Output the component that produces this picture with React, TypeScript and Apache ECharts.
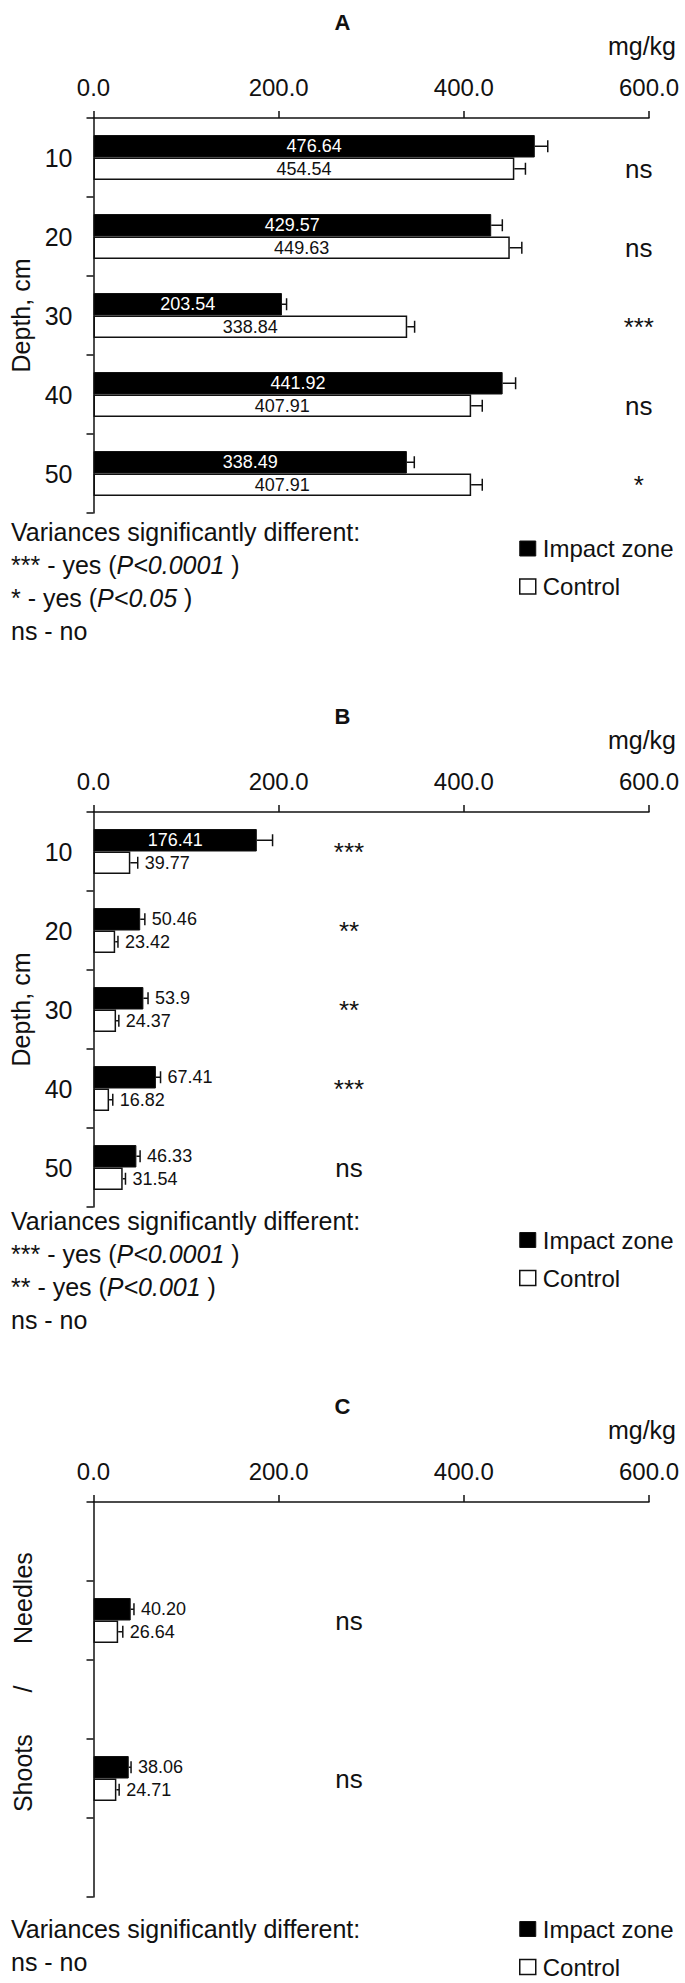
import React, { useEffect, useRef } from 'react';
import * as echarts from 'echarts';

// ---------- data ----------
const depthCategories = ['10', '20', '30', '40', '50'];
const tissueCategories = ['', 'Needles', '', 'Shoots', ''];
const xTickMax = 600;
const xTickStep = 200;

const aImpact = [476.64, 429.57, 203.54, 441.92, 338.49];
const aControl = [454.54, 449.63, 338.84, 407.91, 407.91];
const aImpactErr = [14, 12, 5, 14, 8];
const aControlErr = [12, 13, 8, 12, 12];
const aSig = ['ns', 'ns', '***', 'ns', '*'];

const bImpact = [176.41, 50.46, 53.9, 67.41, 46.33];
const bControl = [39.77, 23.42, 24.37, 16.82, 31.54];
const bImpactErr = [17, 5, 5, 5, 4];
const bControlErr = [8, 3, 3, 4, 3];
const bSig = ['***', '**', '**', '***', 'ns'];

const cImpact = [null, 40.2, null, 38.06, null];
const cControl = [null, 26.64, null, 24.71, null];
const cImpactErr = [null, 3.5, null, 2.5, null];
const cControlErr = [null, 5, null, 3, null];
const cSig = ['', 'ns', '', 'ns', ''];

const seriesNames = ['Impact zone', 'Control'];
const notesHeader = 'Variances significantly different:';
const aNotes = [['*** - yes (', 'P<0.0001', ' )'], ['* - yes (', 'P<0.05', ' )'], ['ns - no']];
const bNotes = [['*** - yes (', 'P<0.0001', ' )'], ['** - yes (', 'P<0.001', ' )'], ['ns - no']];
const cNotes = [['ns - no']];

// ---------- style / layout ----------
const FONT = '"Liberation Sans", Arial, Helvetica, sans-serif';
const INK = '#111';
const BAR_W = 22.5;
const CAP = 6;
const INSIDE_MIN = 100;
const NB = '\u00A0';

type Panel = {
  title: string;
  top: number;
  categories: string[];
  showCatLabels: boolean;
  impact: (number | null)[];
  control: (number | null)[];
  impactErr: (number | null)[];
  controlErr: (number | null)[];
  sig: string[];
  sigX: number;
  sigDy: number;
  yName: string;
  digits?: number;
  notes: string[][];
  notesTop: number;
  legendTop: number;
};

const panels: Panel[] = [
  {
    title: 'A', top: 118, categories: depthCategories, showCatLabels: true,
    impact: aImpact, control: aControl, impactErr: aImpactErr, controlErr: aControlErr,
    sig: aSig, sigX: 589, sigDy: BAR_W / 2, yName: 'Depth, cm',
    notes: aNotes, notesTop: 532, legendTop: 536.5,
  },
  {
    title: 'B', top: 812, categories: depthCategories, showCatLabels: true,
    impact: bImpact, control: bControl, impactErr: bImpactErr, controlErr: bControlErr,
    sig: bSig, sigX: 276, sigDy: 0, yName: 'Depth, cm',
    notes: bNotes, notesTop: 1221, legendTop: 1228,
  },
  {
    title: 'C', top: 1502, categories: tissueCategories, showCatLabels: false,
    impact: cImpact, control: cControl, impactErr: cImpactErr, controlErr: cControlErr,
    sig: cSig, sigX: 276, sigDy: 0,
    yName: NB.repeat(5) + 'Shoots' + NB.repeat(6) + '/' + NB.repeat(6) + 'Needles',
    digits: 2,
    notes: cNotes, notesTop: 1929, legendTop: 1917,
  },
];

const GRID_H = 395;
const GRID_LEFT = 93.5;
const GRID_RIGHT = 36;

function fmt(v: number, digits?: number) {
  return digits != null ? v.toFixed(digits) : String(v);
}

function errSeries(p: Panel, idx: number, which: number) {
  const values = which === 0 ? p.impact : p.control;
  const errs = which === 0 ? p.impactErr : p.controlErr;
  const sign = which === 0 ? -1 : 1;
  const insideColor = which === 0 ? '#fff' : INK;
  const data: number[][] = [];
  values.forEach((v, i) => {
    if (v != null) data.push([v, i, errs[i] as number]);
  });
  return {
    type: 'custom',
    name: seriesNames[which] + ' err',
    xAxisIndex: idx,
    yAxisIndex: idx,
    z: 5,
    silent: true,
    clip: false,
    data,
    renderItem: (params: any, api: any) => {
      const v = api.value(0);
      const c = api.value(1);
      const e = api.value(2);
      const p0 = api.coord([v, c]);
      const p1 = api.coord([v + e, c]);
      const pm = api.coord([v / 2, c]);
      const y = p0[1] + (sign * BAR_W) / 2;
      const inside = v > INSIDE_MIN;
      return {
        type: 'group',
        children: [
          { type: 'line', shape: { x1: p0[0], y1: y, x2: p1[0], y2: y }, style: { stroke: INK, lineWidth: 1.5 } },
          { type: 'line', shape: { x1: p1[0], y1: y - CAP, x2: p1[0], y2: y + CAP }, style: { stroke: INK, lineWidth: 1.5 } },
          {
            type: 'text',
            style: {
              text: fmt(v, p.digits),
              x: inside ? pm[0] : p1[0] + 7,
              y: y,
              align: inside ? 'center' : 'left',
              verticalAlign: 'middle',
              fill: inside ? insideColor : INK,
              fontSize: 18,
              fontFamily: FONT,
            },
          },
        ],
      };
    },
  };
}

function sigSeries(p: Panel, idx: number) {
  const data: number[][] = [];
  p.sig.forEach((s, i) => {
    if (s) data.push([p.sigX, i]);
  });
  return {
    type: 'custom',
    name: 'significance',
    xAxisIndex: idx,
    yAxisIndex: idx,
    z: 5,
    silent: true,
    clip: false,
    data,
    renderItem: (params: any, api: any) => {
      const c = api.value(1);
      const pt = api.coord([api.value(0), c]);
      return {
        type: 'text',
        style: {
          text: p.sig[c],
          x: pt[0],
          y: pt[1] + p.sigDy,
          align: 'center',
          verticalAlign: 'middle',
          fill: INK,
          fontSize: 26,
          fontFamily: FONT,
        },
      };
    },
  };
}

function buildOption() {
  const grid: any[] = [];
  const xAxis: any[] = [];
  const yAxis: any[] = [];
  const series: any[] = [];
  const title: any[] = [];
  const legend: any[] = [];
  const graphic: any[] = [];

  panels.forEach((p, idx) => {
    grid.push({ left: GRID_LEFT, right: GRID_RIGHT, top: p.top, height: GRID_H, containLabel: false });
    xAxis.push({
      type: 'value',
      gridIndex: idx,
      position: 'top',
      min: 0,
      max: xTickMax,
      interval: xTickStep,
      axisLine: { show: true, lineStyle: { color: INK, width: 1.5 } },
      axisTick: { show: true, length: 7, lineStyle: { color: INK, width: 1.5 } },
      axisLabel: {
        margin: 19,
        fontSize: 24,
        color: INK,
        fontFamily: FONT,
        formatter: (v: number) => v.toFixed(1),
      },
      splitLine: { show: false },
    });
    yAxis.push({
      type: 'category',
      gridIndex: idx,
      inverse: true,
      data: p.categories,
      axisLine: { show: true, onZero: false, lineStyle: { color: INK, width: 1.5 } },
      axisTick: { show: true, length: 7, lineStyle: { color: INK, width: 1.5 } },
      axisLabel: { show: p.showCatLabels, margin: 21, fontSize: 25, color: INK, fontFamily: FONT },
      name: p.yName,
      nameLocation: 'middle',
      nameGap: 58,
      nameTextStyle: { fontSize: 25, color: INK, fontFamily: FONT },
    });
    series.push({
      type: 'bar',
      name: seriesNames[0],
      xAxisIndex: idx,
      yAxisIndex: idx,
      data: p.impact,
      barWidth: BAR_W,
      barGap: '0%',
      itemStyle: { color: '#000', borderColor: INK, borderWidth: 1 },
    });
    series.push({
      type: 'bar',
      name: seriesNames[1],
      xAxisIndex: idx,
      yAxisIndex: idx,
      data: p.control,
      barWidth: BAR_W,
      barGap: '0%',
      itemStyle: { color: '#fff', borderColor: INK, borderWidth: 1.5 },
    });
    series.push(errSeries(p, idx, 0));
    series.push(errSeries(p, idx, 1));
    series.push(sigSeries(p, idx));

    title.push({
      text: p.title,
      left: 'center',
      top: p.top - 112,
      textStyle: { fontSize: 22, fontWeight: 'bold', color: INK, fontFamily: FONT },
    });
    legend.push({
      data: [
        { name: seriesNames[0], itemStyle: { color: '#000', borderColor: INK, borderWidth: 1 } },
        { name: seriesNames[1], itemStyle: { color: '#fff', borderColor: INK, borderWidth: 1.5 } },
      ],
      orient: 'vertical',
      left: 519,
      top: p.legendTop,
      height: 120,
      padding: 0,
      icon: 'rect',
      itemWidth: 16,
      itemHeight: 15,
      itemGap: 14,
      selectedMode: false,
      textStyle: { fontSize: 24, color: INK, fontFamily: FONT, padding: [0, 0, 0, 2] },
    });
    graphic.push({
      type: 'text',
      right: 685 - 676,
      top: p.top - 85,
      style: { text: 'mg/kg', fontSize: 25, fill: INK, fontFamily: FONT },
    });
    const lines = [[notesHeader], ...p.notes];
    lines.forEach((ln, li) => {
      const rich = {
        n: { fontSize: 25, fontFamily: FONT, fill: INK },
        i: { fontSize: 25, fontFamily: FONT, fill: INK, fontStyle: 'italic' },
      };
      const text = ln.map((part, pi) => `{${pi === 1 ? 'i' : 'n'}|${part}}`).join('');
      graphic.push({
        type: 'text',
        x: 11,
        y: p.notesTop + li * 33,
        style: { text, rich, verticalAlign: 'middle', fill: INK, fontSize: 25, fontFamily: FONT },
      });
    });
  });

  return { animation: false, backgroundColor: '#fff', grid, xAxis, yAxis, series, title, legend, graphic };
}

export default function App() {
  const ref = useRef<HTMLDivElement>(null);
  useEffect(() => {
    document.body.style.margin = '0';
    if (!ref.current) return;
    const chart = echarts.init(ref.current, undefined, { renderer: 'svg' });
    chart.setOption(buildOption() as any);
    return () => chart.dispose();
  }, []);
  return <div ref={ref} style={{ width: 685, height: 1983 }} />;
}
